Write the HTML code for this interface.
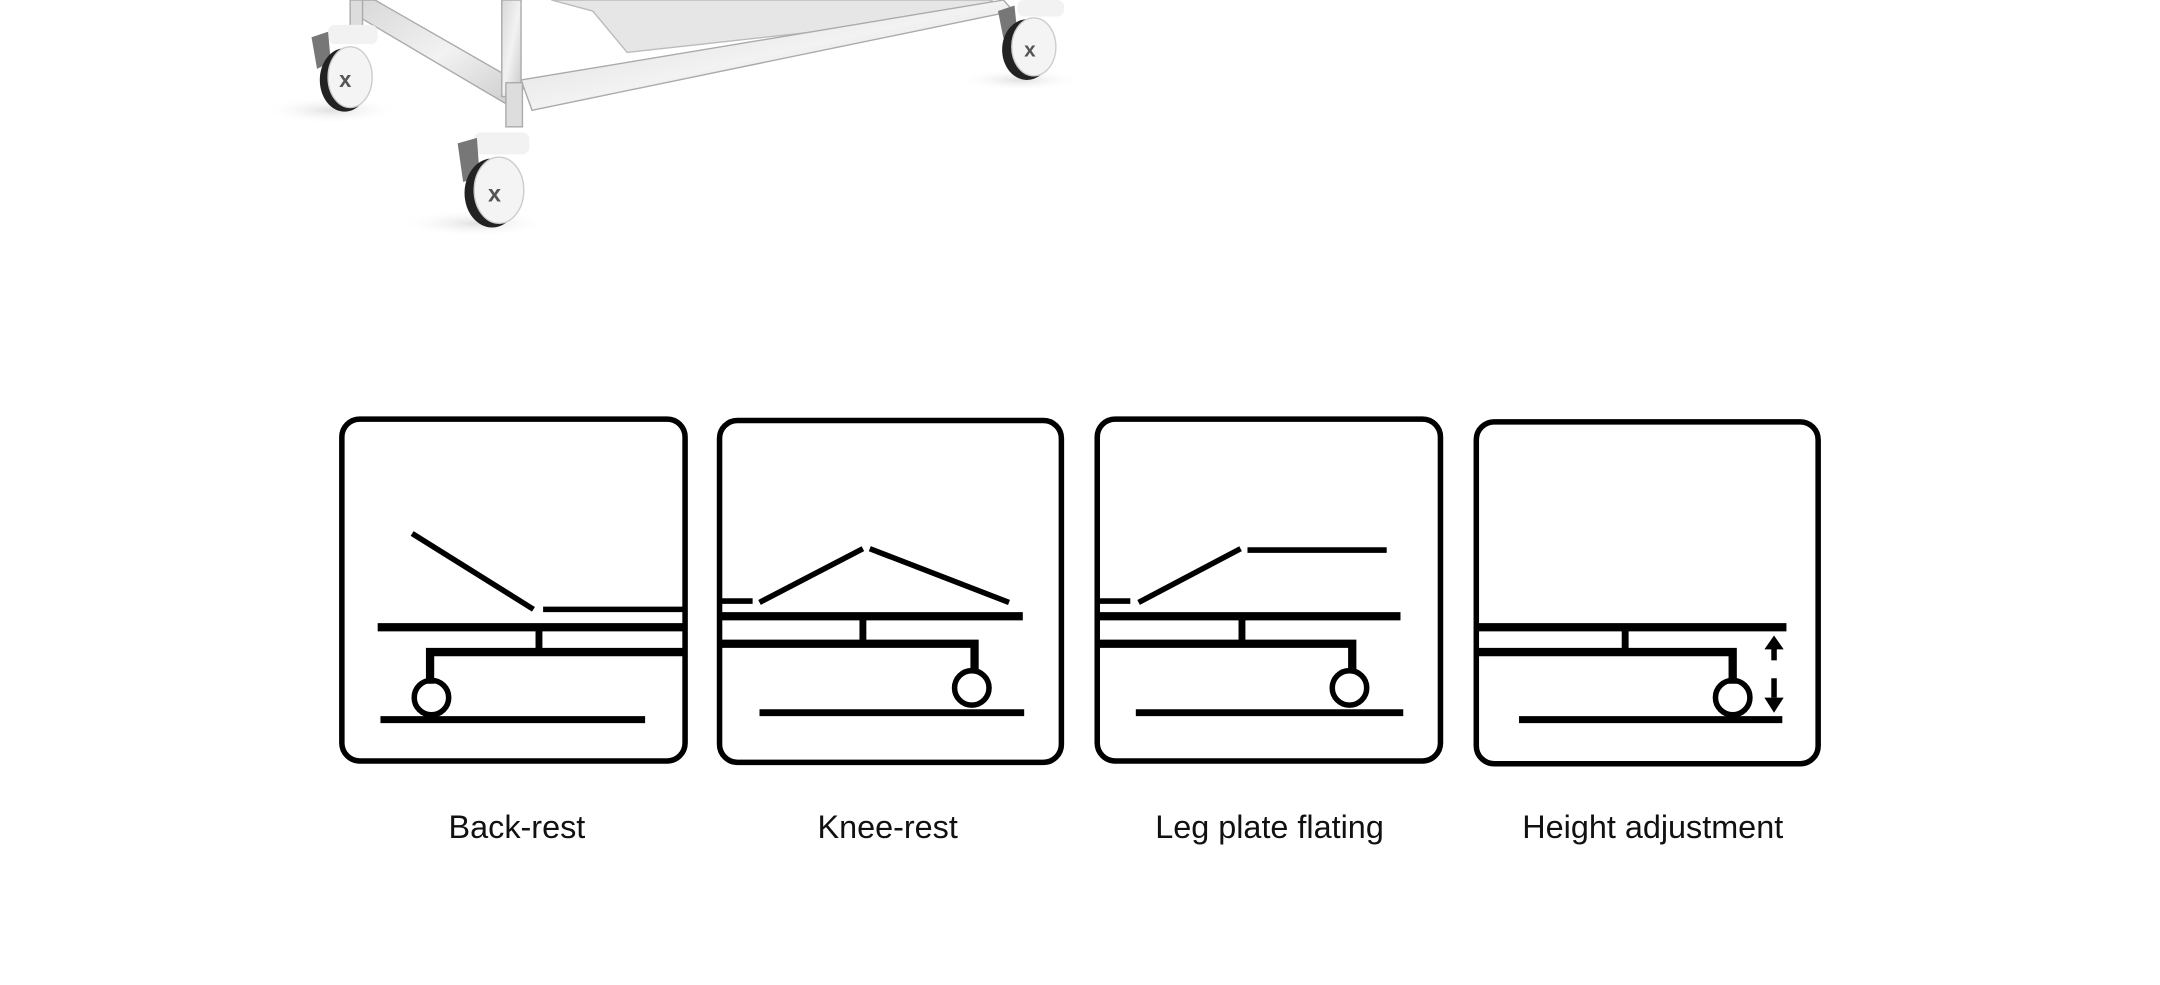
<!DOCTYPE html>
<html><head><meta charset="utf-8"><style>
html,body{margin:0;padding:0;background:#fff;width:2160px;height:985px;overflow:hidden}
svg{display:block}
text{font-family:"Liberation Sans",sans-serif;font-size:23.5px;fill:#111}
</style></head><body>
<svg width="2160" height="985" viewBox="0 0 1567 714.5" preserveAspectRatio="none">
<defs>
<linearGradient id="m" x1="0" y1="0" x2="1" y2="1"><stop offset="0" stop-color="#d8d8d8"/><stop offset="0.5" stop-color="#f2f2f2"/><stop offset="1" stop-color="#c8c8c8"/></linearGradient>
<radialGradient id="sh"><stop offset="0" stop-color="#ccc" stop-opacity=".6"/><stop offset="1" stop-color="#fff" stop-opacity="0"/></radialGradient>
</defs>
<ellipse cx="240" cy="80" rx="50" ry="10" fill="url(#sh)"/>
<ellipse cx="345" cy="162" rx="55" ry="10" fill="url(#sh)"/>
<ellipse cx="740" cy="58" rx="45" ry="8" fill="url(#sh)"/>
<polygon points="400,0 720,0 710,10 455,38 430,8" fill="#e6e6e6" stroke="#bbb" stroke-width="1"/>
<polygon points="262,0 272,0 380,62 375,80 260,12" fill="url(#m)" stroke="#aaa" stroke-width="1"/>
<polygon points="378,58 728,0 735,8 386,80" fill="url(#m)" stroke="#aaa" stroke-width="1"/>
<rect x="364" y="0" width="14" height="70" fill="url(#m)" stroke="#aaa" stroke-width="1"/>
<rect x="367" y="60" width="12" height="32" fill="#ddd" stroke="#aaa" stroke-width="1"/>
<rect x="254" y="0" width="9" height="22" fill="#ddd" stroke="#aaa"/>
<g>
<rect x="238" y="18" width="36" height="14" rx="5" fill="#f2f2f2"/>
<path d="M226 27 L238 23 L240 45 L230 50 Z" fill="#777"/>
<ellipse cx="250" cy="58" rx="18" ry="23" fill="#222"/>
<ellipse cx="254" cy="56" rx="16" ry="22" fill="#f4f4f4" stroke="#ccc"/>
<text x="246" y="63" style="font-size:16px;font-weight:bold;fill:#555">x</text>
</g>
<g>
<rect x="344" y="96" width="40" height="16" rx="5" fill="#f2f2f2"/>
<path d="M332 104 L346 100 L348 128 L336 132 Z" fill="#777"/>
<ellipse cx="357" cy="140" rx="20" ry="25" fill="#222"/>
<ellipse cx="362" cy="138" rx="18" ry="24" fill="#f4f4f4" stroke="#ccc"/>
<text x="354" y="146" style="font-size:17px;font-weight:bold;fill:#555">x</text>
</g>
<g>
<rect x="738" y="0" width="34" height="12" rx="5" fill="#f2f2f2"/>
<path d="M724 8 L736 4 L738 24 L728 28 Z" fill="#777"/>
<ellipse cx="745" cy="36" rx="18" ry="22" fill="#222"/>
<ellipse cx="750" cy="34" rx="16" ry="21" fill="#f4f4f4" stroke="#ccc"/>
<text x="743" y="41" style="font-size:15px;font-weight:bold;fill:#555">x</text>
</g>

<g fill="none" stroke="#000">
<rect x="248" y="304" width="249" height="248" rx="13" stroke-width="4"/>
<line x1="299" y1="387" x2="387" y2="442" stroke-width="4"/>
<line x1="394" y1="442" x2="498" y2="442" stroke-width="4"/>
<line x1="274" y1="455" x2="498" y2="455" stroke-width="6"/>
<line x1="391" y1="457" x2="391" y2="473" stroke-width="5"/>
<polyline points="312,496 312,473 498,473" stroke-width="6"/>
<circle cx="313" cy="506" r="12.5" stroke-width="4"/>
<line x1="276" y1="522" x2="468" y2="522" stroke-width="5"/>
<rect x="522" y="305" width="248" height="248" rx="13" stroke-width="4"/>
<line x1="521" y1="436" x2="546" y2="436" stroke-width="4"/>
<line x1="551" y1="437" x2="626" y2="398" stroke-width="4"/>
<line x1="631" y1="398" x2="732" y2="437" stroke-width="4"/>
<line x1="521" y1="447" x2="742" y2="447" stroke-width="6"/>
<line x1="626" y1="449" x2="626" y2="466" stroke-width="5"/>
<polyline points="521,467 707,467 707,488" stroke-width="6"/>
<circle cx="705" cy="499" r="12.5" stroke-width="4"/>
<line x1="551" y1="517" x2="743" y2="517" stroke-width="5"/>
<rect x="796" y="304" width="249" height="248" rx="13" stroke-width="4"/>
<line x1="797" y1="436" x2="820" y2="436" stroke-width="4"/>
<line x1="826" y1="437" x2="900" y2="398" stroke-width="4"/>
<line x1="905" y1="399" x2="1006" y2="399" stroke-width="4"/>
<line x1="797" y1="447" x2="1016" y2="447" stroke-width="6"/>
<line x1="901" y1="449" x2="901" y2="466" stroke-width="5"/>
<polyline points="797,467 981,467 981,488" stroke-width="6"/>
<circle cx="979" cy="499" r="12.5" stroke-width="4"/>
<line x1="824" y1="517" x2="1018" y2="517" stroke-width="5"/>
<rect x="1071" y="306" width="248" height="248" rx="13" stroke-width="4"/>
<line x1="1071" y1="455" x2="1296" y2="455" stroke-width="6"/>
<line x1="1179" y1="457" x2="1179" y2="473" stroke-width="5"/>
<polyline points="1071,473 1257,473 1257,496" stroke-width="6"/>
<circle cx="1257" cy="506" r="12.5" stroke-width="4"/>
<line x1="1102" y1="522" x2="1293" y2="522" stroke-width="5"/>
<line x1="1287" y1="468" x2="1287" y2="479" stroke-width="4"/>
<line x1="1287" y1="492" x2="1287" y2="506" stroke-width="4"/>
</g>
<polygon points="1287,461 1280,471 1294,471" fill="#000"/>
<polygon points="1287,517 1280,506 1294,506" fill="#000"/>

<text x="375" y="608" text-anchor="middle">Back-rest</text>
<text x="644" y="608" text-anchor="middle">Knee-rest</text>
<text x="921" y="608" text-anchor="middle">Leg plate flating</text>
<text x="1199" y="608" text-anchor="middle">Height adjustment</text>
</svg>
</body></html>
